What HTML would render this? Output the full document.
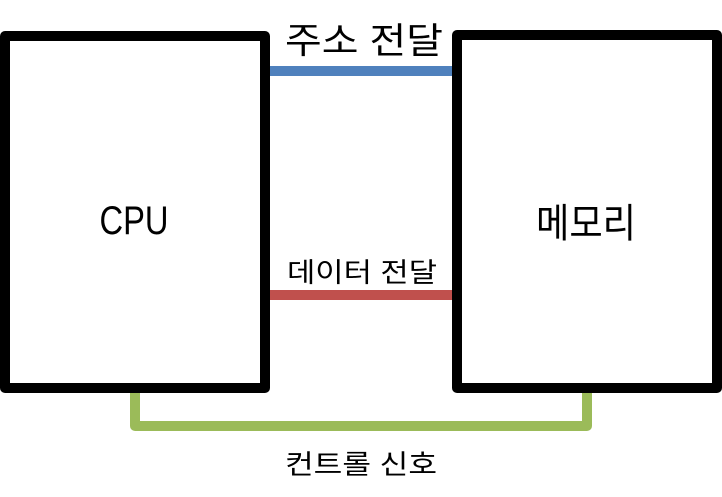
<!DOCTYPE html>
<html><head><meta charset="utf-8"><style>
html,body{margin:0;padding:0;background:#fff;}
svg{display:block;}
text{font-family:"Liberation Sans","Noto Sans CJK KR",sans-serif;fill:#000;}
</style></head><body>
<svg width="722" height="497" viewBox="0 0 722 497" xmlns="http://www.w3.org/2000/svg">
<rect x="0" y="0" width="722" height="497" fill="#fff"/>
<line x1="266" y1="71" x2="456" y2="71" stroke="#4f81bd" stroke-width="10"/>
<line x1="266" y1="295" x2="458" y2="295" stroke="#c0504d" stroke-width="10"/>
<polyline points="135,388 135,426 587,426 587,388" fill="none" stroke="#9bbb59" stroke-width="10" stroke-linejoin="round"/>
<rect x="5" y="36" width="260" height="352" fill="none" stroke="#000" stroke-width="10" stroke-linejoin="round"/>
<rect x="457" y="35" width="260" height="353" fill="none" stroke="#000" stroke-width="10" stroke-linejoin="round"/>
<text x="364" y="53" font-size="36" text-anchor="middle" textLength="158" lengthAdjust="spacingAndGlyphs">주소 전달</text>
<text x="134" y="234" font-size="40" text-anchor="middle" textLength="69" lengthAdjust="spacingAndGlyphs">CPU</text>
<text x="586" y="237" font-size="40" text-anchor="middle" textLength="100" lengthAdjust="spacingAndGlyphs">메모리</text>
<text x="362" y="282" font-size="27" text-anchor="middle" textLength="150" lengthAdjust="spacingAndGlyphs">데이터 전달</text>
<text x="361" y="474" font-size="27" text-anchor="middle" textLength="152" lengthAdjust="spacingAndGlyphs">컨트롤 신호</text>
</svg>
</body></html>
